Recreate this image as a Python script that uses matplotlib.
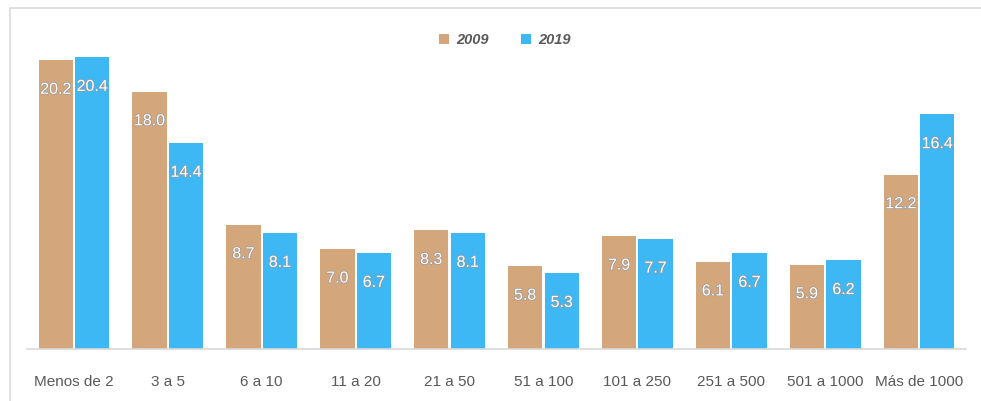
import numpy as np
import matplotlib
matplotlib.use("Agg")
import matplotlib.pyplot as plt
from matplotlib.patches import Rectangle
import matplotlib.patheffects as pe

categories = ["Menos de 2", "3 a 5", "6 a 10", "11 a 20", "21 a 50", "51 a 100",
              "101 a 250", "251 a 500", "501 a 1000", "Más de 1000"]
vals_2009 = [20.2, 18.0, 8.7, 7.0, 8.3, 5.8, 7.9, 6.1, 5.9, 12.2]
vals_2019 = [20.4, 14.4, 8.1, 6.7, 8.1, 5.3, 7.7, 6.7, 6.2, 16.4]
series_names = ["2009", "2019"]

tan = "#D4A67C"
blue = "#3DB8F5"

plt.rcParams['font.family'] = ['Liberation Sans', 'DejaVu Sans']

fig = plt.figure(figsize=(9.81, 4.01), dpi=100)
fig.patches.append(Rectangle((10 / 981, -0.1), 1.0, (401 - 8) / 401 + 0.1,
                             transform=fig.transFigure, fill=False,
                             edgecolor="#D9D9D9", linewidth=1.2))

ax = fig.add_axes([27 / 981, 52 / 401, 939 / 981, (349 - 30) / 401])
x = np.arange(len(categories))
w = 0.365
gap = 0.012
b1 = ax.bar(x - w / 2 - gap, vals_2009, w, color=tan, label=series_names[0])
b2 = ax.bar(x + w / 2 + gap, vals_2019, w, color=blue, label=series_names[1])

for bars, vals in ((b1, vals_2009), (b2, vals_2019)):
    for r, v in zip(bars, vals):
        ax.annotate(f"{v:.1f}", (r.get_x() + r.get_width() / 2, v),
                    xytext=(0, -21), textcoords="offset points",
                    ha="center", va="center", color="white", fontsize=11.5,
                    path_effects=[pe.withStroke(linewidth=1.0, foreground="#9a9a9a")])

ax.set_xlim(-0.5, 9.5)
ax.set_ylim(0, (349 - 30) / 14.3)
ax.set_xticks(x)
ax.set_xticklabels(categories, fontsize=11, color="#595959")
ax.tick_params(axis="x", length=0, pad=19)
ax.set_yticks([])
for s in ["top", "right", "left"]:
    ax.spines[s].set_visible(False)
ax.spines["bottom"].set_color("#D9D9D9")
ax.spines["bottom"].set_linewidth(1.2)

leg = ax.legend(loc="center", bbox_to_anchor=(0.509, 0.969), ncol=2, frameon=False,
                handlelength=0.7, handleheight=0.7, columnspacing=2.2, handletextpad=0.5,
                borderpad=0, prop={"size": 10.5, "style": "italic", "weight": "bold"})
for t in leg.get_texts():
    t.set_color("#595959")

fig.savefig("out.png", dpi=100)
